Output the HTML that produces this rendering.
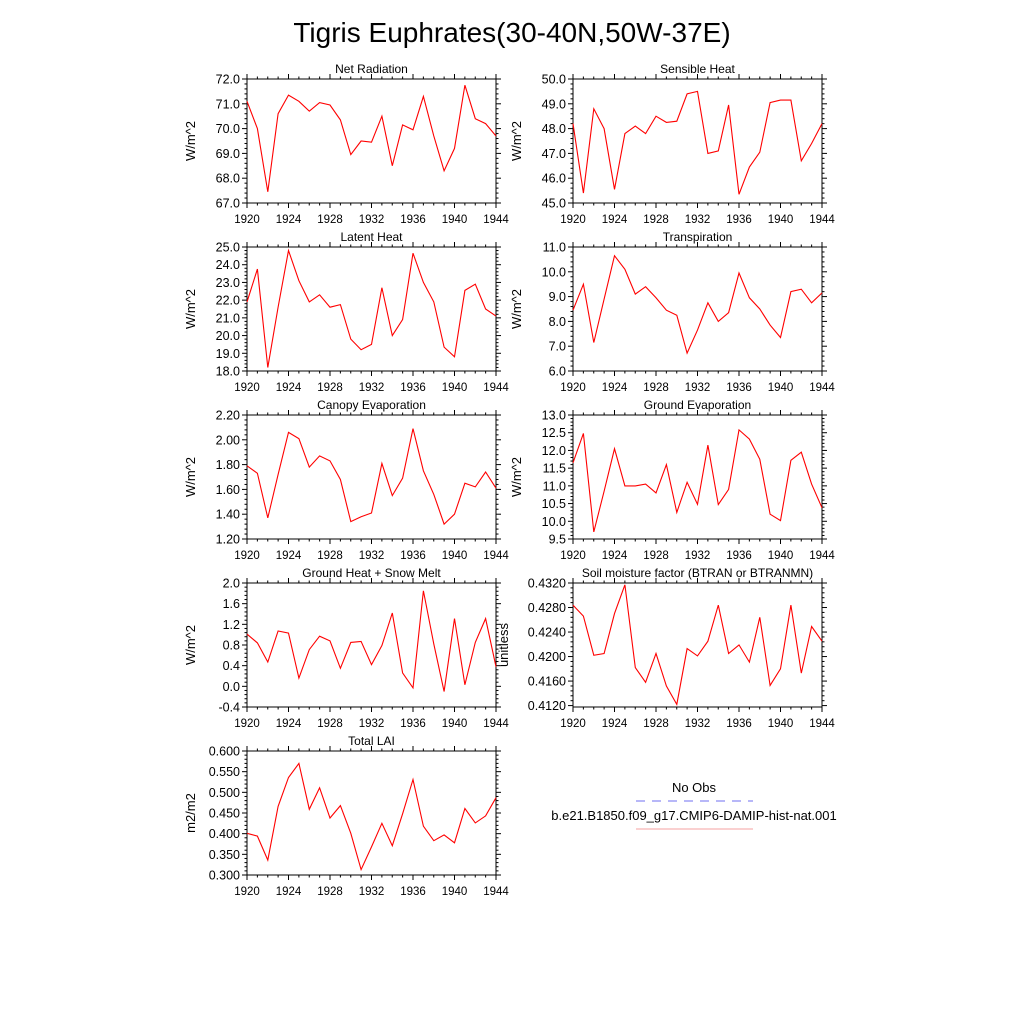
<!DOCTYPE html>
<html><head><meta charset="utf-8">
<style>
html,body{margin:0;padding:0;background:#fff;}
svg{display:block;font-family:"Liberation Sans",Arial,sans-serif;}
</style></head>
<body>
<svg id="chart" width="1024" height="1024" viewBox="0 0 1024 1024" xmlns="http://www.w3.org/2000/svg">
<rect width="1024" height="1024" fill="#fff"/>
<text x="512" y="42" font-size="28" text-anchor="middle">Tigris Euphrates(30-40N,50W-37E)</text>
<g>
<text x="694" y="792" font-size="13" text-anchor="middle">No Obs</text>
<line x1="636" y1="801" x2="753" y2="801" stroke="#6f6ff0" stroke-width="1" stroke-dasharray="9,7"/>
<text x="694" y="820" font-size="13" text-anchor="middle">b.e21.B1850.f09_g17.CMIP6-DAMIP-hist-nat.001</text>
<line x1="636" y1="829" x2="753" y2="829" stroke="#f4a0a0" stroke-width="1"/>
</g>
</svg>
<script>
const years = [1920,1921,1922,1923,1924,1925,1926,1927,1928,1929,1930,1931,1932,1933,1934,1935,1936,1937,1938,1939,1940,1941,1942,1943,1944];
const xTicks = [1920,1924,1928,1932,1936,1940,1944];
const netRad = [71.1,70.0,67.45,70.6,71.35,71.1,70.7,71.05,70.95,70.35,68.95,69.5,69.45,70.5,68.5,70.15,69.95,71.3,69.7,68.3,69.2,71.75,70.4,70.2,69.7];
const sensible = [48.2,45.4,48.8,48.0,45.55,47.8,48.1,47.8,48.5,48.25,48.3,49.4,49.5,47.0,47.1,48.95,45.35,46.45,47.05,49.05,49.15,49.15,46.7,47.4,48.2];
const latent = [21.9,23.75,18.2,21.6,24.8,23.1,21.9,22.3,21.6,21.75,19.8,19.2,19.5,22.7,20.0,20.9,24.65,23.0,21.9,19.35,18.8,22.55,22.9,21.5,21.1];
const transp = [8.45,9.5,7.15,8.9,10.65,10.1,9.1,9.4,8.95,8.45,8.25,6.72,7.65,8.75,8.0,8.35,9.95,8.95,8.5,7.85,7.35,9.2,9.3,8.75,9.15];
const canopy = [1.79,1.73,1.37,1.72,2.06,2.01,1.78,1.87,1.83,1.68,1.34,1.38,1.41,1.81,1.55,1.69,2.09,1.75,1.56,1.32,1.40,1.65,1.62,1.74,1.61];
const groundEvap = [11.65,12.48,9.7,10.85,12.05,11.0,11.0,11.05,10.8,11.6,10.25,11.1,10.48,12.15,10.47,10.9,12.58,12.32,11.75,10.2,10.02,11.72,11.95,11.05,10.38];
const groundHeat = [1.01,0.84,0.47,1.07,1.03,0.16,0.71,0.97,0.88,0.35,0.85,0.87,0.42,0.79,1.42,0.26,-0.03,1.85,0.82,-0.1,1.31,0.03,0.85,1.31,0.38];
const btran = [0.4284,0.4266,0.4202,0.4205,0.4270,0.4317,0.4182,0.4158,0.4205,0.4152,0.4122,0.4213,0.4201,0.4225,0.4284,0.4205,0.4219,0.4191,0.4264,0.4153,0.4180,0.4284,0.4173,0.4249,0.4225];
const lai = [0.401,0.394,0.336,0.466,0.536,0.570,0.459,0.511,0.438,0.468,0.401,0.313,0.368,0.425,0.371,0.448,0.531,0.418,0.383,0.397,0.378,0.461,0.426,0.443,0.487];
const netRadTicks = [67,68,69,70,71,72];
const sensibleTicks = [45,46,47,48,49,50];
const latentTicks = [18,19,20,21,22,23,24,25];
const transpTicks = [6,7,8,9,10,11];
const canopyTicks = [1.2,1.4,1.6,1.8,2.0,2.2];
const groundEvapTicks = [9.5,10,10.5,11,11.5,12,12.5,13];
const groundHeatTicks = [-0.4,0,0.4,0.8,1.2,1.6,2.0];
const btranTicks = [0.412,0.416,0.420,0.424,0.428,0.432];
const laiTicks = [0.3,0.35,0.4,0.45,0.5,0.55,0.6];

const NS='http://www.w3.org/2000/svg';
const svg=document.getElementById('chart');
function mk(tag,attrs,parent){const e=document.createElementNS(NS,tag);for(const k in attrs)e.setAttribute(k,attrs[k]);parent.appendChild(e);return e;}

const panels=[
 {id:'net-radiation',title:'Net Radiation',data:netRad,ticks:netRadTicks,dec:1,min:67,max:72,x:247,y:79,unit:'W/m^2'},
 {id:'sensible-heat',title:'Sensible Heat',data:sensible,ticks:sensibleTicks,dec:1,min:45,max:50,x:573,y:79,unit:'W/m^2'},
 {id:'latent-heat',title:'Latent Heat',data:latent,ticks:latentTicks,dec:1,min:18,max:25,x:247,y:247,unit:'W/m^2'},
 {id:'transpiration',title:'Transpiration',data:transp,ticks:transpTicks,dec:1,min:6,max:11,x:573,y:247,unit:'W/m^2'},
 {id:'canopy-evaporation',title:'Canopy Evaporation',data:canopy,ticks:canopyTicks,dec:2,min:1.2,max:2.2,x:247,y:415,unit:'W/m^2'},
 {id:'ground-evaporation',title:'Ground Evaporation',data:groundEvap,ticks:groundEvapTicks,dec:1,min:9.5,max:13,x:573,y:415,unit:'W/m^2'},
 {id:'ground-heat',title:'Ground Heat + Snow Melt',data:groundHeat,ticks:groundHeatTicks,dec:1,min:-0.4,max:2.0,x:247,y:583,unit:'W/m^2'},
 {id:'soil-moisture',title:'Soil moisture factor (BTRAN or BTRANMN)',data:btran,ticks:btranTicks,dec:4,min:0.41177,max:0.432,x:573,y:583,unit:'unitless',ylx:508},
 {id:'total-lai',title:'Total LAI',data:lai,ticks:laiTicks,dec:3,min:0.3,max:0.6,x:247,y:751,unit:'m2/m2'}
];
const W=249,H=124;
panels.forEach(p=>{
 const g=mk('g',{},svg);
 
 
 const xs=v=>p.x+(v-1920)/24*W;
 const ys=v=>p.y+H-(v-p.min)/(p.max-p.min)*H;
 // title
 const t=mk('text',{x:p.x+W/2,y:p.y-6,'font-size':12,'text-anchor':'middle'},g);
 
 
 t.textContent=p.title;
 // y label
 const lx=p.ylx||(p.x-52);
 const yl=mk('text',{x:lx,y:p.y+H/2,'font-size':13,'text-anchor':'middle',transform:'rotate(-90 '+lx+' '+(p.y+H/2)+')'},g);
 
 
 yl.textContent=p.unit;
 // x ticks
 years.forEach(yr=>{
  const major=xTicks.includes(yr);const L=major?5:2.5;const x=xs(yr);
  mk('line',{x1:x,y1:p.y+H,x2:x,y2:p.y+H+L,stroke:'#000','stroke-width':1},g);
  mk('line',{x1:x,y1:p.y,x2:x,y2:p.y-L,stroke:'#000','stroke-width':1},g);
 });
 xTicks.forEach(yr=>{
  const tl=mk('text',{x:xs(yr),y:p.y+H+20,'font-size':11.5,'text-anchor':'middle'},g);
  
  
  tl.textContent=yr;
 });
 // y ticks
 const step=p.ticks[1]-p.ticks[0];
 for(let i=0;i<p.ticks.length;i++){
  const v=p.ticks[i];
  for(let k=0;k<5;k++){
   const vv=v+k*step/5; if(vv>p.max+1e-9)break;
   const y=ys(vv);const L=k===0?5:2.5;
   mk('line',{x1:p.x,y1:y,x2:p.x-L,y2:y,stroke:'#000','stroke-width':1},g);
   mk('line',{x1:p.x+W,y1:y,x2:p.x+W+L,y2:y,stroke:'#000','stroke-width':1},g);
  }
  for(let k=1;k<5;k++){
   const vv=v-k*step/5; if(vv<p.min-1e-9)break; if(i>0)break;
   const y=ys(vv);
   mk('line',{x1:p.x,y1:y,x2:p.x-2.5,y2:y,stroke:'#000','stroke-width':1},g);
   mk('line',{x1:p.x+W,y1:y,x2:p.x+W+2.5,y2:y,stroke:'#000','stroke-width':1},g);
  }
  const tl=mk('text',{x:p.x-7,y:ys(v)+4.5,'font-size':12.5,'text-anchor':'end'},g);
  
  
  tl.textContent=v.toFixed(p.dec);
 }
 // frame
 const fr=mk('rect',{x:p.x,y:p.y,width:W,height:H,fill:'none',stroke:'#000','stroke-width':1},g);
 
 
 // series
 const pts=p.data.map((v,i)=>xs(years[i]).toFixed(1)+','+ys(v).toFixed(1)).join(' ');
 const pl=mk('polyline',{points:pts,fill:'none',stroke:'#ff0000','stroke-width':1.1},g);
 
 
});
</script>
</body></html>
